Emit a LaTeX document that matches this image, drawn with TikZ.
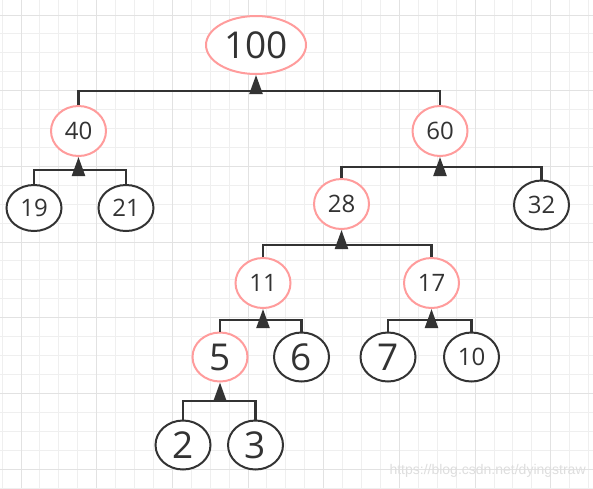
\documentclass[tikz,border=0pt]{standalone}
\usepackage{fontspec}
\setmainfont{Open Sans}
\newfontfamily\markfont{Liberation Sans}
\usetikzlibrary{shapes.geometric,arrows.meta}

\definecolor{pinkline}{HTML}{FF9C9C}
\definecolor{darkline}{HTML}{333333}
\definecolor{minorgrid}{HTML}{EFEFEF}
\definecolor{majorgrid}{HTML}{E2E2E2}

\tikzset{
  inner/.style={ellipse,draw=pinkline,line width=2pt,fill=white,text=darkline,
    minimum width=55pt,minimum height=50pt,inner sep=0pt,
    font=\fontsize{24}{24}\selectfont},
  leaf/.style={inner,draw=darkline,minimum height=49pt},
  big/.style={font=\fontsize{37}{37}\selectfont},
  link/.style={draw=darkline,line width=2.3pt},
  up/.style={link,-{Triangle[length=19pt,width=13pt]}}
}

\begin{document}
\begin{tikzpicture}[x=1pt,y=-1pt]

      \useasboundingbox (0,0) rectangle (593,488);
      \fill[white] (0,0) rectangle (593,488);

      \foreach \i in {0,...,31}
        \draw[minorgrid,line width=1pt] ({2.1+18.92*\i},0) -- ({2.1+18.92*\i},488);
      \foreach \i in {0,...,25}
        \draw[minorgrid,line width=1pt] (0,{15+18.92*\i}) -- (593,{15+18.92*\i});
      \foreach \i in {1,5,...,29}
        \draw[majorgrid,line width=1pt] ({2.1+18.92*\i},0) -- ({2.1+18.92*\i},488);
      \foreach \i in {0,4,...,24}
        \draw[majorgrid,line width=1pt] (0,{15+18.92*\i}) -- (593,{15+18.92*\i});

      \node[text=black!13,font=\markfont\fontsize{14}{14}\selectfont,anchor=base west]
        (mark) at (386,474) {https://blog.csdn.net/dyingstraw};

      \node[inner,big,minimum width=100pt,minimum height=58pt] (n100) at (256,45) {100};
      \node[inner] (n40) at (78.5,131) {40};
      \node[inner] (n60) at (440,131) {60};
      \node[inner] (n28) at (341.5,204) {28};
      \node[inner] (n11) at (263,283) {11};
      \node[inner] (n17) at (431.5,283) {17};
      \node[inner,big,minimum height=49pt] (n5) at (220,357) {5};

      \node[leaf,minimum height=46pt] (n19) at (34,208) {19};
      \node[leaf,minimum height=46pt] (n21) at (126,208) {21};
      \node[leaf] (n32) at (541.5,205) {32};
      \node[leaf,big] (n6) at (301.5,357) {6};
      \node[leaf,big] (n7) at (388,357) {7};
      \node[leaf] (n10) at (471.5,357) {10};
      \node[leaf,big] (n2) at (183,445) {2};
      \node[leaf,big] (n3) at (255.5,445) {3};

      \coordinate (j100) at (256,91);
      \coordinate (j40)  at (78.5,170);
      \coordinate (j60)  at (440,167);
      \coordinate (j28)  at (341.5,245);
      \coordinate (j11)  at (263,320);
      \coordinate (j17)  at (431.5,320);
      \coordinate (j5)   at (220,401);

      \draw[link] (n40.north) |- (j100) -| (n60.north);
      \draw[link] (n19.north) |- (j40)  -| (n21.north);
      \draw[link] (n28.north) |- (j60)  -| (n32.north);
      \draw[link] (n11.north) |- (j28)  -| (n17.north);
      \draw[link] (n5.north)  |- (j11)  -| (n6.north);
      \draw[link] (n7.north)  |- (j17)  -| (n10.north);
      \draw[link] (n2.north)  |- (j5)   -| (n3.north);

      \draw[up] (j100) -- (n100.south);
      \draw[up] (j40)  -- (n40.south);
      \draw[up] (j60)  -- (n60.south);
      \draw[up] (j28)  -- (n28.south);
      \draw[up] (j11)  -- (n11.south);
      \draw[up] (j17)  -- (n17.south);
      \draw[up] (j5)   -- (n5.south);

    \end{tikzpicture}
\end{document}
